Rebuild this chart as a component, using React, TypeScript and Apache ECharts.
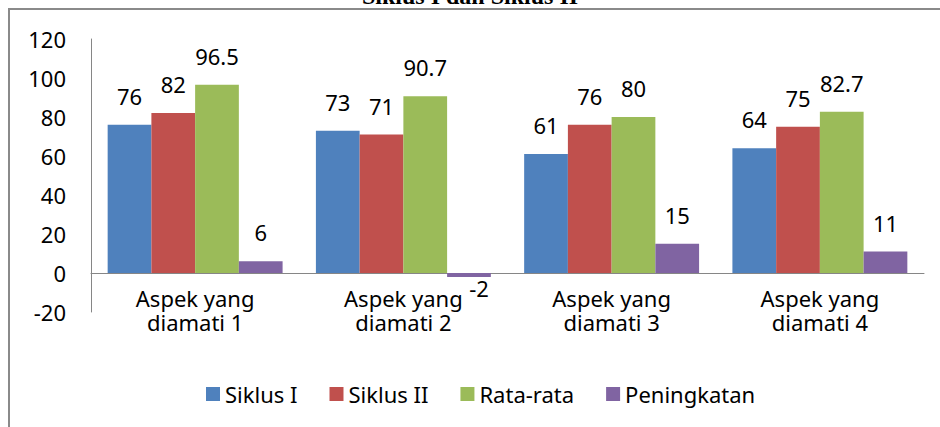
import React, { useEffect, useRef } from "react";
import * as echarts from "echarts";

const categories = ["Aspek yang\ndiamati 1", "Aspek yang\ndiamati 2", "Aspek yang\ndiamati 3", "Aspek yang\ndiamati 4"];
const siklusI = [76, 73, 61, 64];
const siklusII = [82, 71, 76, 75];
const rataRata = [96.5, 90.7, 80, 82.7];
const peningkatan = [6, -2, 15, 11];
const seriesNames = ["Siklus I", "Siklus II", "Rata-rata", "Peningkatan"];
const colors = ["#4F81BD", "#C0504D", "#9BBB59", "#8064A2"];
const yTicks = { min: -20, max: 120, interval: 20 };
const titleText = "Siklus I dan Siklus II";

const FONT = "'Noto Sans', 'Open Sans', sans-serif";

export default function App() {
  const ref = useRef<HTMLDivElement>(null);
  useEffect(() => {
    if (!ref.current) return;
    const chart = echarts.init(ref.current, null, { renderer: "svg" });
    const all = [siklusI, siklusII, rataRata, peningkatan];
    chart.setOption({
      animation: false,
      backgroundColor: "#ffffff",
      textStyle: { fontFamily: FONT },
      graphic: [
        {
          type: "rect",
          shape: { x: 9, y: 9, width: 960, height: 440 },
          style: { fill: "none", stroke: "#8a8a8a", lineWidth: 2 },
          silent: true,
        },
        {
          type: "text",
          x: 470,
          y: 8,
          style: {
            text: titleText,
            font: "bold 24px 'Liberation Serif', 'DejaVu Serif', serif",
            fill: "#000",
            textAlign: "center",
            textVerticalAlign: "bottom",
          },
          silent: true,
        },
      ],
      grid: { left: 91, right: 16, top: 39, bottom: 115, containLabel: false },
      legend: {
        left: 201,
        top: 378,
        itemWidth: 14,
        itemHeight: 14,
        itemGap: 32,
        icon: "rect",
        textStyle: { fontSize: 22, color: "#000", fontFamily: FONT },
        data: seriesNames,
      },
      xAxis: {
        type: "category",
        data: categories,
        axisLine: { onZero: true, lineStyle: { color: "#868686", width: 1 } },
        axisTick: { show: false },
        axisLabel: { color: "#000", fontSize: 22, lineHeight: 24, margin: -26, fontFamily: FONT, interval: 0 },
      },
      yAxis: {
        type: "value",
        min: yTicks.min,
        max: yTicks.max,
        interval: yTicks.interval,
        splitLine: { show: false },
        axisLine: { show: true, lineStyle: { color: "#868686", width: 1 } },
        axisTick: { show: false },
        axisLabel: { color: "#000", fontSize: 22, margin: 25, fontFamily: FONT },
      },
      series: all.map((vals, i) => ({
        name: seriesNames[i],
        type: "bar",
        barGap: "0%",
        barCategoryGap: "16%",
        itemStyle: { color: colors[i] },
        label: {
          show: true,
          position: "top",
          distance: 18,
          color: "#000",
          fontSize: 22,
          fontFamily: FONT,
        },
        data: vals.map((v) =>
          v < 0 ? { value: v, label: { position: "bottom", distance: 0, offset: [10, 0] } } : v
        ),
      })),
    });
    return () => chart.dispose();
  }, []);
  return (
    <div
      ref={ref}
      style={{ position: "fixed", left: 0, top: 0, width: 940, height: 427 }}
    />
  );
}
